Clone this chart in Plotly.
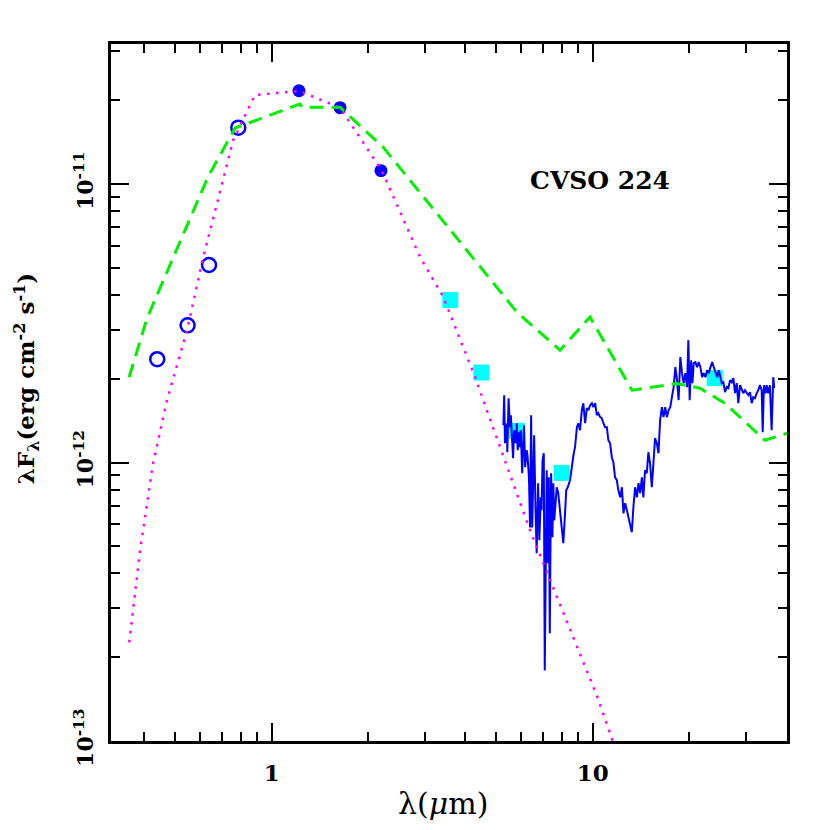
import plotly.graph_objects as go

# optical photometry (open circles)  - wavelength (um), lambda F_lambda (erg cm-2 s-1)
opt_wl = [0.44, 0.547, 0.638, 0.787]
opt_flux = [2.35e-12, 3.11e-12, 5.12e-12, 1.594e-11]

# 2MASS J H K (filled circles)
nir_wl = [1.216, 1.633, 2.19]
nir_flux = [2.163e-11, 1.88e-11, 1.117e-11]

# IRAC + MIPS 24 (cyan squares)
ir_wl = [3.6, 4.5, 5.8, 8.0, 24.0]
ir_flux = [3.83e-12, 2.105e-12, 1.30e-12, 9.18e-13, 2.01e-12]

# photosphere (magenta dotted), flux in 1e-12
phot_wl = [0.36, 0.389, 0.427, 0.472, 0.545, 0.611, 0.759, 0.887, 1.216, 1.633,
           2.2, 2.9, 3.42, 4.3, 4.68, 6.38, 10.29, 12.0]
phot_f12 = [0.226, 0.484, 0.994, 1.675, 2.99, 5.42, 14.39, 20.89, 21.6, 18.8,
            11.2, 5.47, 3.94, 2.03, 1.54, 0.571, 0.146, 0.088]

# median SED (green dashed), flux in 1e-12
med_wl = [0.3595, 0.409, 0.633, 0.769, 1.225, 1.243, 1.633, 2.222, 5.81, 7.91,
          9.81, 13.26, 18.31, 21.58, 25.8, 34.4, 40.5]
med_f12 = [2.025, 3.30, 10.60, 15.89, 19.39, 18.87, 18.87, 13.58, 3.467, 2.533,
           3.328, 1.819, 1.922, 1.849, 1.633, 1.202, 1.275]

# IRS spectrum (blue), flux in 1e-12
irs_wl = [5.27, 5.30, 5.33, 5.40, 5.42, 5.47, 5.52, 5.56, 5.61, 5.65,
          5.69, 5.76, 5.80, 5.84, 5.89, 5.93, 5.97, 6.03, 6.07, 6.11,
          6.16, 6.23, 6.27, 6.33, 6.38, 6.43, 6.48, 6.53, 6.57, 6.64,
          6.69, 6.76, 6.82, 6.89, 6.93, 6.98, 7.04, 7.09, 7.14, 7.19,
          7.24, 7.30, 7.35, 7.42, 7.49, 7.54, 7.59, 7.66, 7.73, 7.81,
          7.95, 8.10, 8.20, 8.27, 8.36, 8.50,
          8.71, 8.81, 8.93, 9.02, 9.13, 9.25, 9.35, 9.47, 9.59, 9.70,
          9.82, 9.94, 10.05, 10.18, 10.30, 10.41, 10.55, 10.67, 10.80, 10.93,
          11.07, 11.19, 11.33, 11.47, 11.60, 11.74, 11.89, 12.02, 12.18, 12.33,
          12.47, 12.62, 12.78, 12.93, 13.09, 13.24, 13.40, 13.56, 13.73, 13.89,
          14.06, 14.23, 14.38, 14.56,
          14.74, 14.91, 15.09, 15.28, 15.46, 15.64, 15.84, 16.03, 16.22, 16.43,
          16.62, 16.83, 17.03, 17.23, 17.44, 17.66, 17.87, 18.09, 18.31, 18.52,
          18.75, 18.98, 19.20, 19.44, 19.68, 19.86, 20.05, 20.26, 20.45, 20.64,
          20.89, 21.15, 21.39, 21.65, 21.93, 22.18, 22.45, 22.72, 22.98, 23.28,
          23.57, 23.84, 24.13, 24.42, 24.69, 24.94,
          25.24, 25.53, 25.84, 26.17, 26.46, 26.79, 27.11, 27.42, 27.77, 28.10,
          28.42, 28.78, 29.13, 29.46, 29.82, 30.19, 30.53, 30.91, 31.28, 31.65,
          32.03, 32.43, 32.80, 33.19, 33.61, 33.85, 34.16, 34.59, 34.84, 35.23,
          35.65, 36.09, 36.52, 36.78]
irs_f12 = [1.361, 1.745, 1.173, 1.384, 1.089, 1.702, 1.339, 1.479, 1.202, 1.036,
           1.306, 1.173, 1.384, 1.107, 1.285, 1.135, 1.306, 0.915, 1.135, 1.361,
           0.962, 1.107, 1.045, 0.885, 0.585, 1.479, 0.585, 0.815, 1.254, 0.657,
           0.472, 0.843, 0.526, 0.750, 0.674, 1.019, 1.080, 0.179, 0.557, 0.938,
           0.435, 0.885, 0.2435, 0.915, 0.539, 0.843, 0.620, 0.691, 0.815, 0.776,
           0.620, 0.513, 0.657, 0.795, 0.815, 0.864,
           1.062, 1.135, 1.339, 1.384, 1.306, 1.541, 1.633, 1.384, 1.567, 1.541,
           1.607, 1.633, 1.580, 1.633, 1.479, 1.503, 1.455, 1.443, 1.384, 1.339,
           1.339, 1.202, 1.173, 1.045, 1.002, 0.885, 0.864, 0.795, 0.750, 0.815,
           0.657, 0.714, 0.674, 0.636, 0.600, 0.562, 0.700, 0.815, 0.750, 0.843,
           0.776, 0.885, 0.750, 0.938,
           0.915, 1.089, 0.994, 0.815, 0.994, 1.223, 1.173, 1.080, 1.419, 1.580,
           1.455, 1.580, 1.455, 1.541, 1.580, 1.717, 1.865, 2.200, 1.976, 1.675,
           2.390, 2.094, 1.927, 2.094, 1.865, 2.751, 1.675, 2.331, 1.927, 2.274,
           2.293, 2.200, 2.293, 2.200, 2.025, 2.094, 2.025, 2.146, 2.094, 2.200,
           2.293, 2.200, 2.094, 2.025, 2.146, 2.025,
           1.927, 1.943, 1.789, 1.865, 1.849, 1.976, 1.943, 2.009, 1.774, 1.927,
           1.633, 1.896, 1.819, 1.774, 1.819, 1.774, 1.745, 1.789, 1.633, 1.717,
           1.702, 1.774, 1.819, 1.896, 1.819, 1.285, 1.896, 1.774, 1.896, 1.774,
           1.896, 1.306, 2.025, 1.849]

x_major = [1, 10]
x_major_text = ["1", "10"]
x_minor = [0.4, 0.5, 0.6, 0.7, 0.8, 0.9, 2, 3, 4, 5, 6, 7, 8, 9, 20, 30]
y_major = [1e-13, 1e-12, 1e-11]
y_major_text = ["10<sup>-13</sup>", "10<sup>-12</sup>", "10<sup>-11</sup>"]
y_minor = [m * 10.0 ** e for e in (-13, -12, -11) for m in range(2, 10)]

E12 = 1e-12
FONT = "DejaVu Serif"

fig = go.Figure()
fig.add_trace(go.Scatter(x=ir_wl, y=ir_flux, mode="markers",
                         marker=dict(symbol="square", size=16, color="#00ffff")))
fig.add_trace(go.Scatter(x=opt_wl, y=opt_flux, mode="markers",
                         marker=dict(symbol="circle-open", size=14, color="#0000ff",
                                     line=dict(width=2.5, color="#0000ff"))))
fig.add_trace(go.Scatter(x=nir_wl, y=nir_flux, mode="markers",
                         marker=dict(symbol="circle", size=13, color="#0000ff")))
fig.add_trace(go.Scatter(x=irs_wl, y=[f * E12 for f in irs_f12], mode="lines",
                         line=dict(color="#0000ff", width=2)))
fig.add_trace(go.Scatter(x=phot_wl, y=[f * E12 for f in phot_f12], mode="lines",
                         line=dict(color="#ff00ff", width=2.5, dash="2.5px,6.5px")))
fig.add_trace(go.Scatter(x=med_wl, y=[f * E12 for f in med_f12], mode="lines",
                         line=dict(color="#00f000", width=3, dash="14px,8px")))

axis_common = dict(type="log", showgrid=False, zeroline=False, showline=True,
                   linecolor="black", linewidth=2.5, mirror="allticks",
                   ticks="inside", ticklen=18, tickwidth=2, tickcolor="black")
minor_common = dict(tickmode="array", ticks="inside", ticklen=9, tickwidth=2,
                    tickcolor="black", showgrid=False)

fig.update_xaxes(range=[-0.5006, 1.6053], tickmode="array", tickvals=x_major,
                 ticktext=x_major_text, ticklabelstandoff=10,
                 tickfont=dict(family=FONT, size=23, color="black", weight="bold"),
                 minor=dict(tickvals=x_minor, **minor_common),
                 **axis_common)
fig.update_yaxes(range=[-13, -10.497], tickmode="array", tickvals=y_major,
                 ticktext=y_major_text, tickangle=-90, ticklabelstandoff=6,
                 tickfont=dict(family=FONT, size=22, color="black", weight="bold"),
                 minor=dict(tickvals=y_minor, **minor_common),
                 **axis_common)

# the page body adds an 8px offset, margins are trimmed to compensate
fig.update_layout(width=830, height=830, showlegend=False,
                  margin=dict(l=103, r=51, t=36, b=97),
                  plot_bgcolor="white", paper_bgcolor="white",
                  annotations=[
                      dict(text="CVSO 224", x=1.0227, y=-10.986, xref="x", yref="y",
                           showarrow=False,
                           font=dict(family=FONT, size=25, color="black", weight="bold")),
                      dict(text="λF<sub>λ</sub>(erg cm<sup>-2</sup> s<sup>-1</sup>)",
                           x=-0.1257, y=0.519, xref="paper", yref="paper",
                           textangle=-90, showarrow=False, xanchor="center", yanchor="middle",
                           font=dict(family=FONT, size=23, color="black", weight="bold")),
                      dict(text="λ(<i>μ</i>m)", x=0.491, y=-0.0896, xref="paper", yref="paper",
                           showarrow=False, xanchor="center", yanchor="middle",
                           font=dict(family=FONT, size=30, color="black")),
                  ])

fig.write_html("out.html")
